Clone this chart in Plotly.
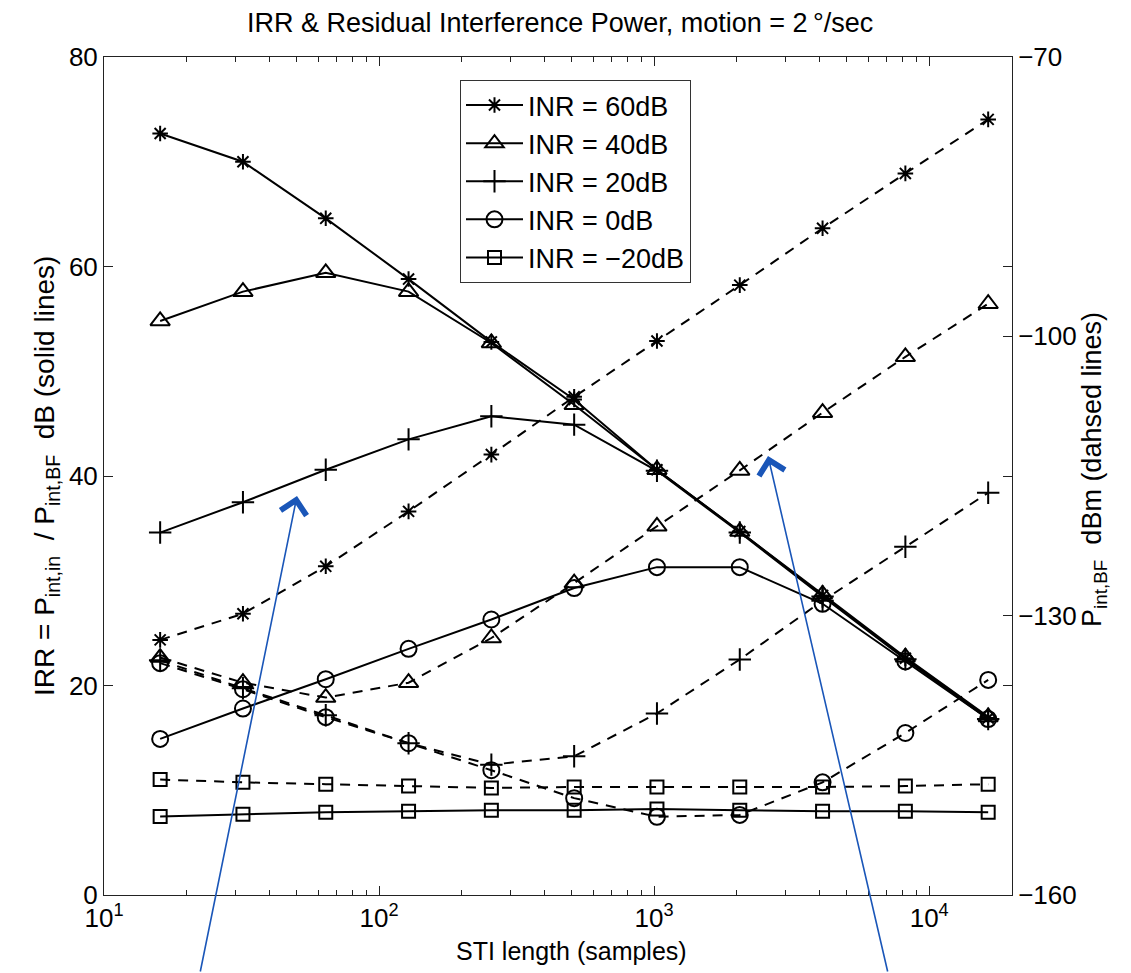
import plotly.graph_objects as go

# ---- data ----
sti_length = [16, 32, 64, 128, 256, 512, 1024, 2048, 4096, 8192, 16384]
inr_labels = ["INR = 60dB", "INR = 40dB", "INR = 20dB", "INR = 0dB", "INR = \u221220dB"]

irr_60 = [72.7, 70.0, 64.6, 58.8, 52.8, 47.3, 40.6, 34.7, 28.6, 22.6, 16.9]
irr_40 = [54.8, 57.6, 59.4, 57.6, 52.7, 46.8, 40.6, 34.7, 28.7, 22.7, 17.0]
irr_20 = [34.6, 37.5, 40.6, 43.5, 45.7, 44.9, 40.5, 34.6, 28.5, 22.5, 16.8]
irr_0 = [14.9, 17.8, 20.6, 23.5, 26.3, 29.3, 31.3, 31.3, 27.8, 22.3, 16.8]
irr_m20 = [7.5, 7.7, 7.9, 8.0, 8.1, 8.1, 8.2, 8.1, 8.0, 8.0, 7.9]

pint_60 = [-132.6, -129.8, -124.7, -118.8, -112.7, -106.5, -100.5, -94.5, -88.4, -82.5, -76.7]
pint_40 = [-134.5, -137.2, -138.8, -137.2, -132.4, -126.5, -120.4, -114.4, -108.2, -102.2, -96.5]
pint_20 = [-134.8, -137.8, -140.7, -143.7, -146.0, -145.1, -140.5, -134.7, -128.4, -122.6, -116.8]
pint_0 = [-135.1, -137.9, -140.9, -143.7, -146.6, -149.6, -151.6, -151.4, -147.9, -142.6, -136.9]
pint_m20 = [-147.6, -147.9, -148.1, -148.3, -148.5, -148.4, -148.4, -148.4, -148.4, -148.3, -148.1]

irr_series = [irr_60, irr_40, irr_20, irr_0, irr_m20]
pint_series = [pint_60, pint_40, pint_20, pint_0, pint_m20]

x_tickvals = [10, 100, 1000, 10000]
x_ticktext = ["10<sup>1</sup>", "10<sup>2</sup>", "10<sup>3</sup>", "10<sup>4</sup>"]
y_tickvals = [0, 20, 40, 60, 80]
y2_tickvals = [-160, -130, -100, -70]
y2_ticktext = ["\u2212160", "\u2212130", "\u2212100", "\u221270"]

# ---- styles ----
markers = [
    dict(symbol="asterisk-open", size=13),
    dict(symbol="triangle-up-open", size=17),
    dict(symbol="cross-thin-open", size=16),
    dict(symbol="circle-open", size=16),
    dict(symbol="square-open", size=13),
]
FONT = "Liberation Sans, Arial, Helvetica, sans-serif"
FS = 26
BLACK = "#000000"

fig = go.Figure()

for i in range(5):
    m = markers[i]
    fig.add_trace(go.Scatter(
        x=sti_length, y=pint_series[i], yaxis="y2", mode="lines+markers",
        line=dict(color=BLACK, width=2, dash="10px,8px"),
        marker=dict(symbol=m["symbol"], size=m["size"], color=BLACK,
                    line=dict(color=BLACK, width=2)),
        showlegend=False, legendgroup=f"g{i}",
    ))

for i in range(5):
    m = markers[i]
    fig.add_trace(go.Scatter(
        x=sti_length, y=irr_series[i], yaxis="y", mode="lines+markers",
        name=inr_labels[i],
        line=dict(color=BLACK, width=2),
        marker=dict(symbol=m["symbol"], size=m["size"], color=BLACK,
                    line=dict(color=BLACK, width=2)),
        legendgroup=f"g{i}",
    ))

# the page body adds an 8px margin: work in screen pixels, shift by OFF
OFF = 8
W, H = 1131 - OFF, 973 - OFF
L, T = 104 - OFF, 57 - OFF
pw, ph = 908, 838
R, B = W - L - pw, H - T - ph


def sx(px):
    return (px - OFF - L) / pw


def sy(py):
    return (T + ph - (py - OFF)) / ph


annotations = []
# left y label
annotations.append(dict(
    text="IRR = P<sub>int,in</sub>  / P<sub>int,BF</sub>  dB (solid lines)",
    xref="paper", yref="paper", x=sx(46), y=sy(476),
    showarrow=False, textangle=-90, font=dict(family=FONT, size=28, color=BLACK),
    xanchor="center", yanchor="middle",
))
# right y label
annotations.append(dict(
    text="P<sub>int,BF</sub>  dBm (dahsed lines)",
    xref="paper", yref="paper", x=sx(1094), y=sy(470),
    showarrow=False, textangle=-90, font=dict(family=FONT, size=27, color=BLACK),
    xanchor="center", yanchor="middle",
))
# x label
annotations.append(dict(
    text="STI length (samples)",
    xref="paper", yref="paper", x=sx(571), y=sy(951),
    showarrow=False, font=dict(family=FONT, size=25, color=BLACK),
    xanchor="center", yanchor="middle",
))
# title
annotations.append(dict(
    text="IRR & Residual Interference Power, motion = 2\u2009\u00b0/sec",
    xref="paper", yref="paper", x=sx(560), y=sy(23),
    showarrow=False, font=dict(family=FONT, size=27, color=BLACK),
    xanchor="center", yanchor="middle",
))
# blue arrows
BLUE = "#1a56b8"
for tip, tail in [((297, 496), (200, 975)), ((768, 456), (888, 975))]:
    annotations.append(dict(
        text="", xref="paper", yref="paper", x=sx(tip[0]), y=sy(tip[1]),
        ax=tail[0] - tip[0], ay=tail[1] - tip[1], axref="pixel", ayref="pixel",
        showarrow=True, arrowhead=4, arrowsize=3.2, arrowwidth=1.6,
        arrowcolor=BLUE, standoff=0,
    ))

axis_common = dict(
    showgrid=False, zeroline=False, showline=True, linecolor="#222222", linewidth=1,
    ticks="inside", tickcolor="#222222", ticklen=9, tickwidth=1,
    tickfont=dict(family=FONT, size=FS, color=BLACK),
)

fig.update_layout(
    width=W, height=H,
    margin=dict(l=L, r=R, t=T, b=B),
    paper_bgcolor="white", plot_bgcolor="white",
    font=dict(family=FONT, size=FS, color=BLACK),
    xaxis=dict(
        type="log", range=[1, 4.30103], tickvals=x_tickvals, ticktext=x_ticktext,
        mirror="ticks",
        minor=dict(ticks="inside", ticklen=5, tickcolor="#222222", dtick="D1"),
        **axis_common,
    ),
    yaxis=dict(range=[0, 80], tickvals=y_tickvals, mirror="ticks", **axis_common),
    yaxis2=dict(range=[-160, -70], tickvals=y2_tickvals, ticktext=y2_ticktext,
                overlaying="y", side="right", **axis_common),
    legend=dict(
        x=sx(460), y=sy(80), xanchor="left", yanchor="top",
        bgcolor="white", bordercolor="#333333", borderwidth=1,
        font=dict(family=FONT, size=27, color=BLACK),
        traceorder="grouped", tracegroupgap=0, itemwidth=57,
    ),
    annotations=annotations,
)

fig.write_html("out.html")
